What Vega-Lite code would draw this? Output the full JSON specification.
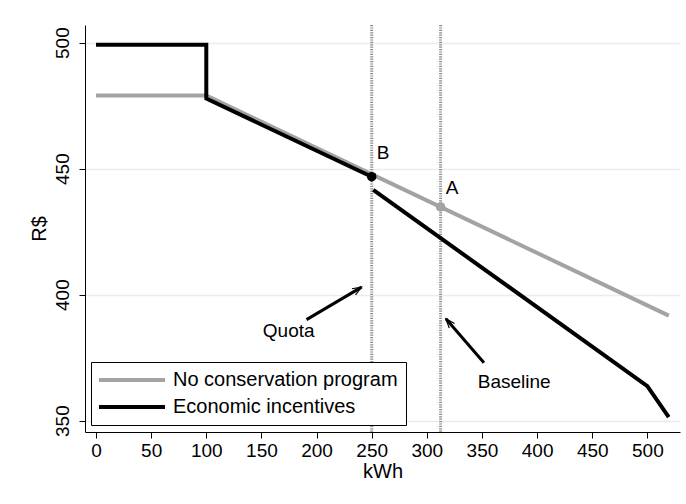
{
  "$schema": "https://vega.github.io/schema/vega-lite/v6.json",
  "width": 595,
  "height": 407,
  "autosize": {"type": "none"},
  "padding": {"left": 85, "top": 25, "right": 6, "bottom": 72},
  "background": "white",
  "config": {
    "font": "Liberation Sans",
    "view": {"stroke": null},
    "axis": {
      "domainColor": "#000000",
      "domainWidth": 1,
      "tickColor": "#000000",
      "tickWidth": 1,
      "tickSize": 6,
      "labelFontSize": 19,
      "labelColor": "#000000",
      "labelPadding": 3,
      "titleFontSize": 20,
      "titleFontWeight": "normal",
      "titleColor": "#000000",
      "gridColor": "#e6eef0",
      "gridWidth": 1.5
    },
    "legend": {
      "padding": 8,
      "strokeColor": "#000000",
      "fillColor": "white",
      "labelFontSize": 20,
      "labelColor": "#000000",
      "labelLimit": 400,
      "labelOffset": 64,
      "symbolOffset": -10,
      "symbolType": "M0,0H12",
      "symbolSize": 121,
      "symbolStrokeWidth": 4,
      "rowPadding": 7
    }
  },
  "datasets": {
    "lines": [
      {"series": "No conservation program", "seg": "g", "i": 1, "kwh": 0, "rs": 479},
      {"series": "No conservation program", "seg": "g", "i": 2, "kwh": 100, "rs": 479},
      {"series": "No conservation program", "seg": "g", "i": 3, "kwh": 519.4, "rs": 391.7},
      {"series": "Economic incentives", "seg": "e1", "i": 1, "kwh": 0, "rs": 499.2},
      {"series": "Economic incentives", "seg": "e1", "i": 2, "kwh": 100, "rs": 499.2},
      {"series": "Economic incentives", "seg": "e1", "i": 3, "kwh": 100, "rs": 477.8},
      {"series": "Economic incentives", "seg": "e1", "i": 4, "kwh": 250, "rs": 446.8},
      {"series": "Economic incentives", "seg": "e2", "i": 1, "kwh": 251.4, "rs": 441.6},
      {"series": "Economic incentives", "seg": "e2", "i": 2, "kwh": 500, "rs": 363.7},
      {"series": "Economic incentives", "seg": "e2", "i": 3, "kwh": 519.4, "rs": 351.4}
    ],
    "points": [
      {"series": "Economic incentives", "label": "B", "kwh": 250, "rs": 446.8},
      {"series": "No conservation program", "label": "A", "kwh": 312.5, "rs": 434.8}
    ],
    "refs": [
      {"name": "Quota", "kwh": 250},
      {"name": "Baseline", "kwh": 312.5}
    ],
    "labels": [
      {"label": "B", "kwh": 260.4, "rs": 456.1},
      {"label": "A", "kwh": 323, "rs": 442.2},
      {"label": "Quota", "kwh": 174.7, "rs": 385.5},
      {"label": "Baseline", "kwh": 379.2, "rs": 365.3}
    ],
    "arrows": [
      {"arrow": "Quota", "part": "tail", "i": 1, "kwh": 190.9, "rs": 390.1},
      {"arrow": "Quota", "part": "head", "i": 2, "kwh": 240.8, "rs": 403},
      {"arrow": "Baseline", "part": "tail", "i": 1, "kwh": 351.8, "rs": 373},
      {"arrow": "Baseline", "part": "head", "i": 2, "kwh": 317.3, "rs": 390.4}
    ]
  },
  "encoding": {
    "x": {
      "field": "kwh",
      "type": "quantitative",
      "title": "kWh",
      "scale": {"domain": [-10, 529.6], "nice": false, "zero": false},
      "axis": {"values": [0, 50, 100, 150, 200, 250, 300, 350, 400, 450, 500], "grid": false, "titlePadding": 1}
    }
  },
  "layer": [
    {
      "data": {"name": "refs"},
      "mark": {"type": "rule", "color": "#8c8c8c", "strokeWidth": 3, "strokeDash": [1.2, 1.2]},
      "encoding": {}
    },
    {
      "data": {"name": "lines"},
      "transform": [{"filter": "datum.series === 'No conservation program'"}],
      "mark": {"type": "line", "strokeWidth": 4, "strokeJoin": "miter"},
      "encoding": {
        "y": {"field": "rs", "type": "quantitative", "title": "R$", "scale": {"domain": [345.5, 507], "nice": false, "zero": false}, "axis": {"values": [350, 400, 450, 500], "grid": true, "labelAngle": 270, "labelAlign": "center", "labelBaseline": "bottom", "labelPadding": 7, "titlePadding": 4}},
        "color": {
          "field": "series", "type": "nominal",
          "scale": {"domain": ["No conservation program", "Economic incentives"], "range": ["#a3a3a3", "#000000"]},
          "legend": {"title": null, "orient": "none", "legendX": 6, "legendY": 337}
        },
        "detail": {"field": "seg"},
        "order": {"field": "i"}
      }
    },
    {
      "data": {"name": "lines"},
      "transform": [{"filter": "datum.series === 'Economic incentives'"}],
      "mark": {"type": "line", "strokeWidth": 4, "strokeJoin": "miter"},
      "encoding": {
        "y": {"field": "rs", "type": "quantitative", "title": "R$", "scale": {"domain": [345.5, 507], "nice": false, "zero": false}, "axis": {"values": [350, 400, 450, 500], "grid": true, "labelAngle": 270, "labelAlign": "center", "labelBaseline": "bottom", "labelPadding": 7, "titlePadding": 4}},
        "color": {
          "field": "series", "type": "nominal",
          "scale": {"domain": ["No conservation program", "Economic incentives"], "range": ["#a3a3a3", "#000000"]},
          "legend": {"title": null, "orient": "none", "legendX": 6, "legendY": 337}
        },
        "detail": {"field": "seg"},
        "order": {"field": "i"}
      }
    },
    {
      "data": {"name": "points"},
      "mark": {"type": "point", "filled": true, "size": 90, "opacity": 1},
      "encoding": {
        "y": {"field": "rs", "type": "quantitative", "title": "R$", "scale": {"domain": [345.5, 507], "nice": false, "zero": false}},
        "fill": {
          "field": "series", "type": "nominal",
          "scale": {"domain": ["No conservation program", "Economic incentives"], "range": ["#a3a3a3", "#000000"]},
          "legend": null
        }
      }
    },
    {
      "data": {"name": "labels"},
      "mark": {"type": "text", "fontSize": 19, "align": "center", "baseline": "middle", "color": "#000000"},
      "encoding": {
        "y": {"field": "rs", "type": "quantitative", "title": "R$", "scale": {"domain": [345.5, 507], "nice": false, "zero": false}},
        "text": {"field": "label"}
      }
    },
    {
      "data": {"name": "arrows"},
      "mark": {"type": "line", "color": "#000000", "strokeWidth": 3},
      "encoding": {
        "y": {"field": "rs", "type": "quantitative", "title": "R$", "scale": {"domain": [345.5, 507], "nice": false, "zero": false}},
        "detail": {"field": "arrow"},
        "order": {"field": "i"}
      }
    },
    {
      "data": {"name": "arrows"},
      "transform": [{"filter": "datum.arrow === 'Quota' && datum.part === 'head'"}],
      "mark": {"type": "point", "shape": "M-0.5,1.3L0,0L0.5,1.3", "size": 196, "angle": 59, "filled": false, "stroke": "#000000", "strokeWidth": 1.2, "opacity": 1},
      "encoding": {
        "y": {"field": "rs", "type": "quantitative", "title": "R$", "scale": {"domain": [345.5, 507], "nice": false, "zero": false}}
      }
    },
    {
      "data": {"name": "arrows"},
      "transform": [{"filter": "datum.arrow === 'Baseline' && datum.part === 'head'"}],
      "mark": {"type": "point", "shape": "M-0.5,1.3L0,0L0.5,1.3", "size": 196, "angle": 319, "filled": false, "stroke": "#000000", "strokeWidth": 1.2, "opacity": 1},
      "encoding": {
        "y": {"field": "rs", "type": "quantitative", "title": "R$", "scale": {"domain": [345.5, 507], "nice": false, "zero": false}}
      }
    }
  ]
}
